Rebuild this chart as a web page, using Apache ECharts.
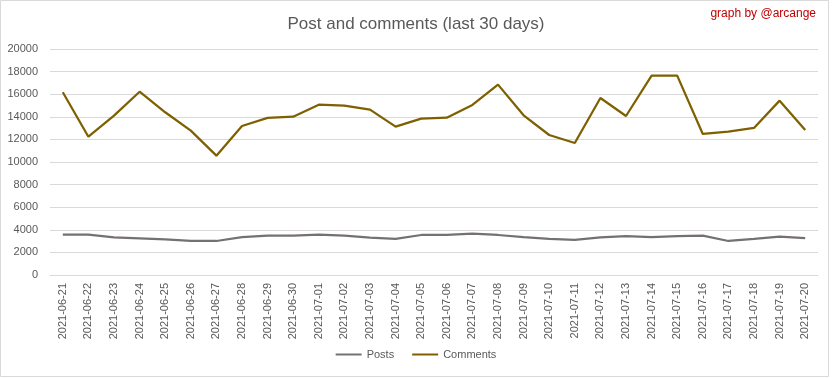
<!DOCTYPE html>
<html>
<head>
<meta charset="utf-8">
<script src="https://cdn.jsdelivr.net/npm/echarts@6/dist/echarts.min.js"></script>
<style>
  html, body { margin: 0; padding: 0; background: #ffffff; }
  #chart { width: 832px; height: 378px; }
</style>
</head>
<body>
<div id="chart"></div>
<script>
const dates = [
  "2021-06-21", "2021-06-22", "2021-06-23", "2021-06-24", "2021-06-25",
  "2021-06-26", "2021-06-27", "2021-06-28", "2021-06-29", "2021-06-30",
  "2021-07-01", "2021-07-02", "2021-07-03", "2021-07-04", "2021-07-05",
  "2021-07-06", "2021-07-07", "2021-07-08", "2021-07-09", "2021-07-10",
  "2021-07-11", "2021-07-12", "2021-07-13", "2021-07-14", "2021-07-15",
  "2021-07-16", "2021-07-17", "2021-07-18", "2021-07-19", "2021-07-20"
];

const posts = [
  3570, 3570, 3340, 3250, 3160, 3010, 3010, 3360, 3480, 3480,
  3570, 3480, 3300, 3190, 3540, 3540, 3660, 3540, 3360, 3190,
  3100, 3330, 3450, 3360, 3450, 3480, 3010, 3190, 3390, 3270
];

const comments = [
  16170, 12240, 14100, 16220, 14400, 12780, 10560, 13190, 13900, 14010,
  15070, 14990, 14630, 13130, 13840, 13920, 15050, 16850, 14130, 12390,
  11680, 15660, 14070, 17640, 17640, 12480, 12680, 13010, 15430, 12830
];

const font = "'Liberation Sans', Arial, sans-serif";
const textGray = "#595959";

const chart = echarts.init(document.getElementById("chart"), null, { renderer: "canvas" });

chart.setOption({
  animation: false,
  backgroundColor: "#ffffff",
  title: {
    text: "Post and comments (last 30 days)",
    left: "center",
    top: 11,
    textStyle: {
      color: textGray,
      fontFamily: font,
      fontSize: 17,
      fontWeight: "normal"
    }
  },
  graphic: [
    {
      type: "rect",
      shape: { x: 0.5, y: 0.5, width: 828, height: 376 },
      style: { fill: "none", stroke: "#d9d9d9", lineWidth: 1 },
      silent: true
    },
    {
      type: "text",
      right: 16,
      top: 8,
      style: {
        text: "graph by @arcange",
        fill: "#c00000",
        font: "12px " + font
      }
    }
  ],
  legend: {
    bottom: 13,
    left: "center",
    itemWidth: 26,
    itemHeight: 2,
    itemGap: 18,
    icon: "rect",
    textStyle: { color: textGray, fontFamily: font, fontSize: 11 },
    data: ["Posts", "Comments"]
  },
  grid: {
    left: 50,
    right: 14,
    top: 49,
    bottom: 103,
    containLabel: false
  },
  xAxis: {
    type: "category",
    data: dates,
    boundaryGap: true,
    axisLine: { lineStyle: { color: "#d9d9d9" } },
    axisTick: { show: false },
    axisLabel: {
      rotate: 90,
      interval: 0,
      color: textGray,
      fontFamily: font,
      fontSize: 11,
      margin: 8
    }
  },
  yAxis: {
    type: "value",
    min: 0,
    max: 20000,
    interval: 2000,
    axisLine: { show: false },
    axisTick: { show: false },
    axisLabel: {
      color: textGray,
      fontFamily: font,
      fontSize: 11,
      margin: 12,
      formatter: function (v) { return String(v); }
    },
    splitLine: { lineStyle: { color: "#d9d9d9", width: 1 } }
  },
  series: [
    {
      name: "Posts",
      type: "line",
      data: posts,
      symbol: "none",
      lineStyle: { color: "#767171", width: 2.25 },
      itemStyle: { color: "#767171" }
    },
    {
      name: "Comments",
      type: "line",
      data: comments,
      symbol: "none",
      lineStyle: { color: "#7f6000", width: 2.25 },
      itemStyle: { color: "#7f6000" }
    }
  ]
});
</script>
</body>
</html>
